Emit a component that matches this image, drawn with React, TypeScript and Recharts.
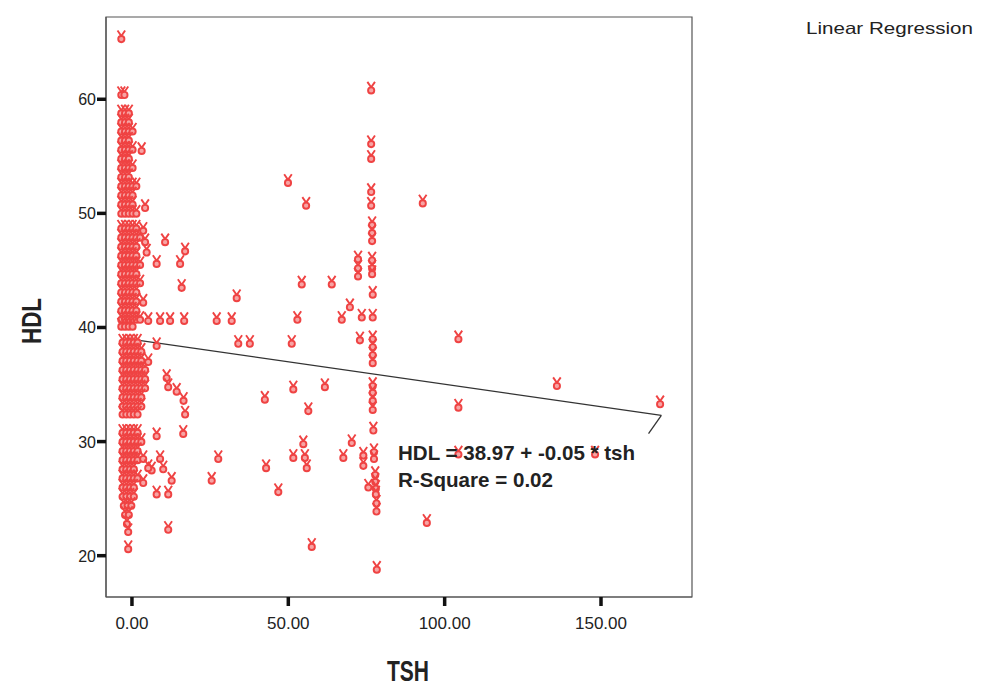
import React from 'react';
import { ScatterChart, Scatter, XAxis, YAxis, ReferenceLine, ReferenceArea } from 'recharts';

// ---- data (TSH, HDL) ----
const colRows: [number, number[]][] = [
  [65.5, [-3.4]],
  [60.6, [-3.4, -2.4]],
  [59.0, [-3.4, -2.2, -1.0]],
  [58.2, [-3.4, -2.2, -1.0]],
  [57.4, [-3.4, -2.2, -1.0, 0.2]],
  [56.6, [-3.4, -2.2, -1.0]],
  [55.8, [-3.4, -2.2, -1.0, 0.2]],
  [55.0, [-3.4, -2.2, -1.0]],
  [54.2, [-3.4, -2.2, -1.0, 0.2]],
  [53.4, [-3.4, -2.2, -1.0]],
  [52.6, [-3.4, -2.2, -1.0, 0.2, 1.4]],
  [51.8, [-3.4, -2.2, -1.0, 0.2]],
  [51.0, [-3.4, -2.2, -1.0, 0.2]],
  [50.2, [-3.4, -2.2, -1.0, 0.2, 1.4]],
  [48.9, [-3.4, -2.2, -1.0, 0.2, 1.4]],
  [48.1, [-3.4, -2.2, -1.0, 0.2, 1.4, 2.6]],
  [47.3, [-3.4, -2.2, -1.0, 0.2, 1.4]],
  [46.5, [-3.4, -2.2, -1.0, 0.2, 1.4]],
  [45.7, [-3.4, -2.2, -1.0, 0.2, 1.4, 2.6]],
  [44.9, [-3.4, -2.2, -1.0, 0.2, 1.4]],
  [44.1, [-3.4, -2.2, -1.0, 0.2, 1.4, 2.6]],
  [43.3, [-3.4, -2.2, -1.0, 0.2, 1.4]],
  [42.5, [-3.4, -2.2, -1.0, 0.2, 1.4]],
  [41.7, [-3.4, -2.2, -1.0, 0.2, 1.4]],
  [40.9, [-3.4, -2.2, -1.0, 0.2, 1.4, 2.6]],
  [40.3, [-3.4, -2.2, -1.0, 0.2]],
  [38.9, [-3.0, -1.8, -0.6, 0.6, 1.8]],
  [38.1, [-3.0, -1.8, -0.6, 0.6, 1.8, 3.0]],
  [37.3, [-3.0, -1.8, -0.6, 0.6, 1.8, 3.0]],
  [36.5, [-3.0, -1.8, -0.6, 0.6, 1.8, 3.0, 4.2]],
  [35.7, [-3.0, -1.8, -0.6, 0.6, 1.8, 3.0, 4.2]],
  [34.9, [-3.0, -1.8, -0.6, 0.6, 1.8, 3.0, 4.2]],
  [34.1, [-3.0, -1.8, -0.6, 0.6, 1.8, 3.0]],
  [33.3, [-3.0, -1.8, -0.6, 0.6, 1.8, 3.0]],
  [32.6, [-3.0, -1.8, -0.6, 0.6, 1.8]],
  [31.0, [-3.0, -1.8, -0.6, 0.6, 1.8]],
  [30.2, [-3.0, -1.8, -0.6, 0.6, 1.8, 3.0]],
  [29.4, [-3.0, -1.8, -0.6, 0.6, 1.8]],
  [28.6, [-3.0, -1.8, -0.6, 0.6, 1.8]],
  [27.8, [-3.0, -1.8, -0.6, 0.6]],
  [27.0, [-3.0, -1.8, -0.6, 0.6, 1.8]],
  [26.2, [-3.0, -1.8, -0.6, 0.6]],
  [25.4, [-3.0, -1.8, -0.6, 0.6]],
  [24.6, [-2.6, -1.4, -0.2]],
  [23.8, [-2.2, -1.0]],
  [23.0, [-1.6]],
  [22.3, [-1.2]],
  [20.8, [-1.2]],
];

const sparsePoints: [number, number][] = [
  [3.1, 55.7], [4.2, 50.7], [3.6, 48.7], [4.2, 47.7], [4.7, 46.8], [10.6, 47.7], [17.0, 46.9],
  [7.9, 45.8], [15.4, 45.8], [15.9, 43.7], [3.6, 42.4], [5.2, 40.8], [9.0, 40.8], [12.2, 40.8],
  [16.7, 40.8], [27.1, 40.8], [31.9, 40.8], [33.5, 42.8], [7.9, 38.6], [34.0, 38.8], [37.7, 38.8],
  [11.1, 35.8], [11.6, 35.0], [14.3, 34.6], [16.5, 33.8], [17.0, 32.6], [5.2, 37.2],
  [7.9, 30.7], [16.4, 30.9], [3.6, 28.7], [9.0, 28.7], [6.3, 27.7], [10.0, 27.8], [5.2, 27.9],
  [12.7, 26.8], [3.6, 26.6], [7.9, 25.6], [11.6, 25.6], [11.6, 22.5],
  [25.5, 26.8], [27.6, 28.7], [42.9, 27.9], [46.8, 25.8], [42.5, 33.9],
  [49.9, 52.9], [55.7, 50.9], [93.0, 51.1],
  [54.3, 44.0], [63.9, 44.0], [69.7, 42.0], [67.1, 40.9], [73.5, 41.1], [52.9, 40.9], [51.1, 38.8], [72.9, 39.1],
  [72.3, 46.2], [72.3, 45.4], [72.3, 44.7],
  [51.6, 34.8], [61.7, 35.0], [56.4, 32.9], [54.8, 30.0], [70.3, 30.1], [51.6, 28.8], [55.3, 28.8],
  [55.9, 27.9], [67.6, 28.8], [74.0, 29.0], [74.0, 28.1], [75.6, 26.2], [57.5, 21.0],
  [104.4, 39.2], [104.4, 33.2], [104.4, 29.1], [148.1, 29.1], [94.3, 23.1], [135.9, 35.1],
  [168.9, 33.5], [78.3, 19.0],
];

const stackTsh = [76.5, 76.5, 76.5, 76.5, 76.5, 76.8, 76.8, 76.8, 76.8, 76.8, 76.8, 77.0, 77.0, 77.0, 77.0,
  77.0, 77.0, 77.0, 77.0, 77.0, 77.0, 77.2, 77.4, 77.4, 77.8, 77.8, 78.0, 78.0, 78.2, 78.2];
const stackHdl = [61.0, 56.3, 55.0, 52.1, 50.9, 49.2, 48.5, 47.8, 46.1, 45.4, 44.9, 43.1, 41.1, 39.2, 38.5,
  37.8, 37.1, 35.1, 34.5, 33.8, 33.0, 31.2, 29.3, 28.7, 27.3, 26.7, 26.1, 25.6, 24.8, 24.1];

const fitLine = [{ tsh: -2.2, hdl: 39.05 }, { tsh: 169.3, hdl: 32.3 }];
const fitCallout = [{ tsh: 169.3, hdl: 32.3 }, { tsh: 165.2, hdl: 30.7 }];

const xTicks = [0, 50, 100, 150];
const yTicks = [20, 30, 40, 50, 60];
const xDomain: [number, number] = [-8.3, 179.1];
const yDomain: [number, number] = [16.38, 67.21];

const equationText = 'HDL = 38.97 + -0.05 * tsh';
const rSquareText = 'R-Square = 0.02';
const titleText = 'Linear Regression';

const columnData = colRows.flatMap(([hdl, xs]) => xs.map((tsh) => ({ tsh, hdl })));
const sparseData = sparsePoints.map(([tsh, hdl]) => ({ tsh, hdl }));
const stackData = stackTsh.map((tsh, i) => ({ tsh, hdl: stackHdl[i] }));

const RED = '#ef4343';
const FONT = '"Liberation Sans", Arial, sans-serif';

const Marker = (props: any) => {
  const { cx, cy } = props;
  if (cx == null || cy == null) return null;
  return (
    <g>
      <path d={`M${cx - 3.8},${cy - 6} L${cx},${cy - 0.5} L${cx + 3.8},${cy - 6}`} stroke={RED} strokeWidth={1.9} fill="none" />
      <circle cx={cx} cy={cy + 2.6} r={3.1} stroke={RED} strokeWidth={1.9} fill="#f7a3a3" />
    </g>
  );
};

const XTick = (props: any) => {
  const { x, y, payload } = props;
  return (
    <text x={x} y={y + 21} textAnchor="middle" fontFamily={FONT} fontSize={17} fill="#222">
      {Number(payload.value).toFixed(2)}
    </text>
  );
};

const YTick = (props: any) => {
  const { x, y, payload } = props;
  return (
    <text x={x} y={y + 6} textAnchor="end" fontFamily={FONT} fontSize={16} fill="#222">
      {payload.value}
    </text>
  );
};

export default function App() {
  return (
    <div style={{ position: 'absolute', left: 0, top: 0, width: 984, height: 689, background: '#fff' }}>
      <ScatterChart width={984} height={689} margin={{ top: 17, right: 292, bottom: 0, left: 0 }}>
        <XAxis
          type="number"
          dataKey="tsh"
          domain={xDomain}
          ticks={xTicks}
          allowDataOverflow
          height={92}
          axisLine={{ stroke: '#555', strokeWidth: 1.2 }}
          tickLine={{ stroke: '#111', strokeWidth: 3.5 }}
          tickSize={9}
          tick={<XTick />}
        />
        <YAxis
          type="number"
          dataKey="hdl"
          domain={yDomain}
          ticks={yTicks}
          allowDataOverflow
          width={106}
          axisLine={{ stroke: '#555', strokeWidth: 1.2 }}
          tickLine={{ stroke: '#111', strokeWidth: 3.5 }}
          tickSize={9}
          tickMargin={1}
          tick={<YTick />}
        />
        <ReferenceArea x1={xDomain[0]} x2={xDomain[1]} y1={yDomain[0]} y2={yDomain[1]} fill="none" stroke="#555" strokeWidth={1.2} />
        <Scatter data={columnData} shape={<Marker />} isAnimationActive={false} />
        <Scatter data={sparseData} shape={<Marker />} isAnimationActive={false} />
        <Scatter data={stackData} shape={<Marker />} isAnimationActive={false} />
        <ReferenceLine
          segment={[{ x: fitLine[0].tsh, y: fitLine[0].hdl }, { x: fitLine[1].tsh, y: fitLine[1].hdl }]}
          stroke="#333"
          strokeWidth={1.3}
        />
        <ReferenceLine
          segment={[{ x: fitCallout[0].tsh, y: fitCallout[0].hdl }, { x: fitCallout[1].tsh, y: fitCallout[1].hdl }]}
          stroke="#333"
          strokeWidth={1.3}
        />
      </ScatterChart>
      <svg width={984} height={689} style={{ position: 'absolute', left: 0, top: 0, pointerEvents: 'none' }}>
        <text x={398} y={460} fontFamily={FONT} fontWeight="bold" fontSize={20.5} fill="#222"
          textLength={237} lengthAdjust="spacingAndGlyphs">{equationText}</text>
        <text x={398} y={487} fontFamily={FONT} fontWeight="bold" fontSize={20.5} fill="#222"
          textLength={155} lengthAdjust="spacingAndGlyphs">{rSquareText}</text>
        <text x={806} y={34} fontFamily={FONT} fontSize={16.5} fill="#222"
          textLength={167} lengthAdjust="spacingAndGlyphs">{titleText}</text>
        <text x={408} y={681} textAnchor="middle" fontFamily={FONT} fontWeight="bold" fontSize={29} fill="#222"
          textLength={42} lengthAdjust="spacingAndGlyphs">TSH</text>
        <text transform="translate(41,321) rotate(-90)" textAnchor="middle" fontFamily={FONT} fontWeight="bold" fontSize={28} fill="#222"
          textLength={46} lengthAdjust="spacingAndGlyphs">HDL</text>
      </svg>
    </div>
  );
}
